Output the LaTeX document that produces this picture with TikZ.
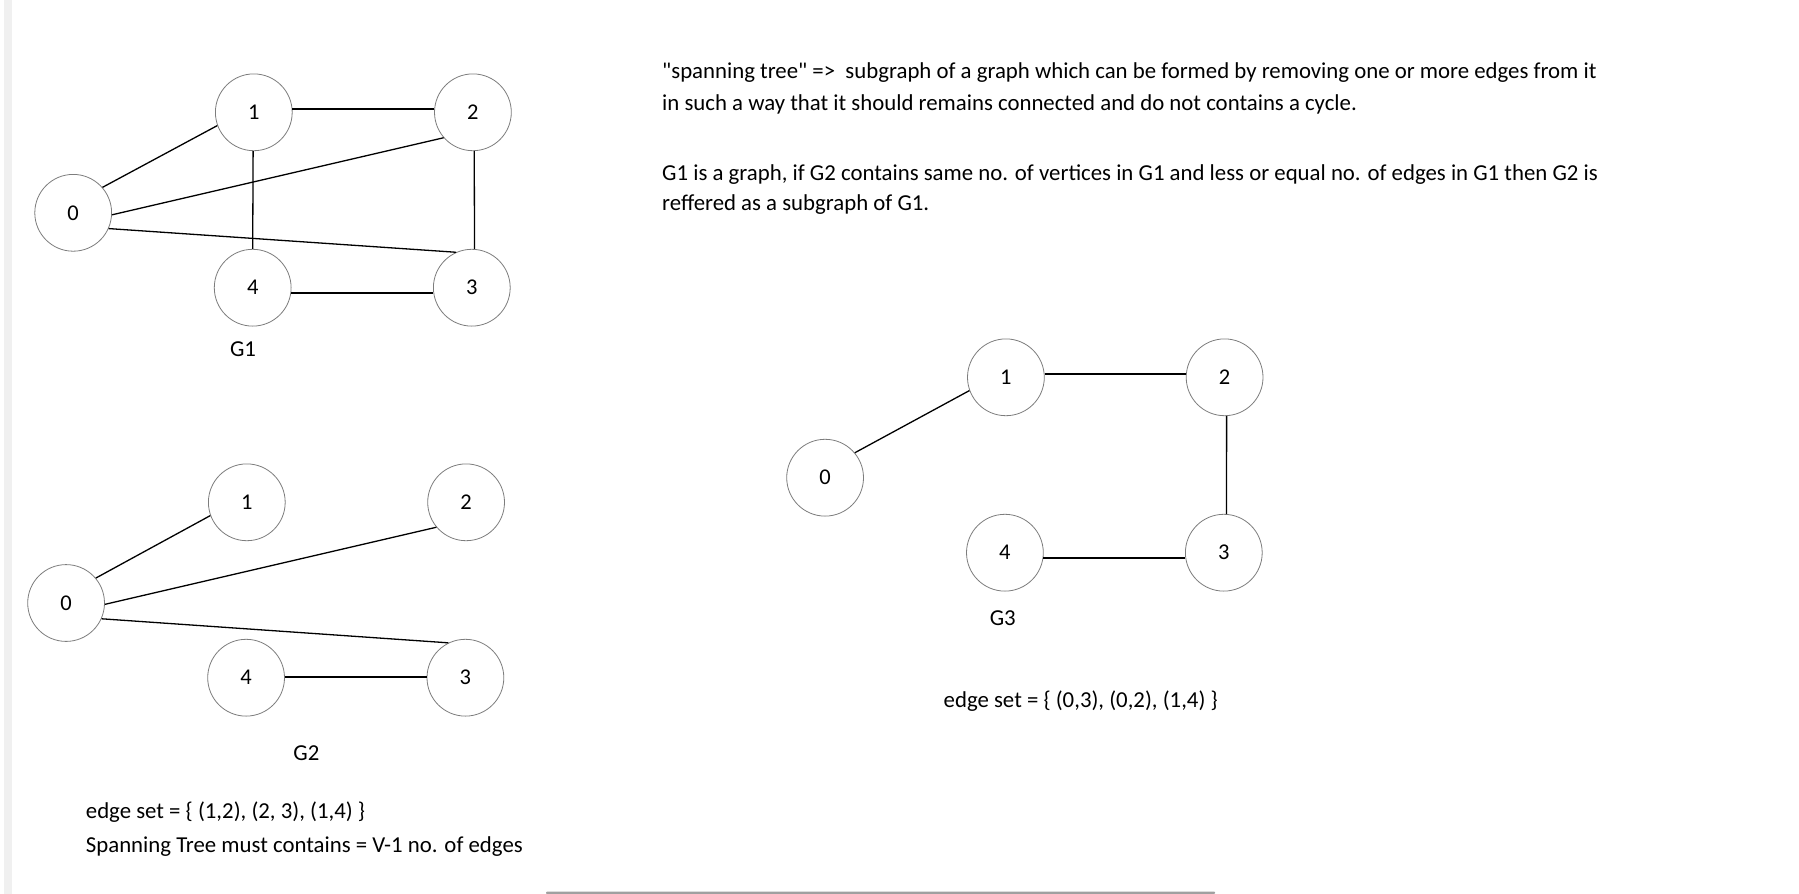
\documentclass[tikz,border=0pt]{standalone}
\usepackage{fontspec}
\setmainfont{Carlito}
\definecolor{nodeborder}{RGB}{125,125,125}
\definecolor{bandgray}{RGB}{240,240,240}
\definecolor{scrollgray}{RGB}{160,160,160}
\begin{document}
\begin{tikzpicture}[x=1pt,y=-1pt,
  vtx/.style={circle, draw=nodeborder, line width=0.8pt, fill=white, minimum size=76.8pt, inner sep=0pt, font=\fontsize{22.5}{26}\selectfont},
  edge/.style={line width=1.3pt, black},
  txt/.style={anchor=base west, inner sep=0pt, font=\fontsize{22.8}{27}\selectfont},
  lbl/.style={anchor=center, inner sep=0pt, font=\fontsize{22.8}{27}\selectfont}]
\useasboundingbox (0,0) rectangle (1799,894);
\fill[white] (0,0) rectangle (1799,894);
\fill[bandgray] (3.5,0) rectangle (12,894);
\fill[scrollgray, rounded corners=1pt] (546,891.5) rectangle (1215,894);

% G1
\node[vtx] (a0) at (73.2,212.8) {0};
\node[vtx] (a1) at (253.8,112.3) {1};
\node[vtx] (a2) at (472.9,112.3) {2};
\node[vtx] (a4) at (252.7,287.7) {4};
\node[vtx] (a3) at (471.8,287.7) {3};
\draw[edge] (a0.41) -- (a1.200);
\draw[edge] (a1.5) -- (a2.175);
\draw[edge] (a0.357) -- (a2.221);
\draw[edge] (a1.269) -- (a4.90);
\draw[edge] (a2.272) -- (a3.86);
\draw[edge] (a0.336) -- (a3.114);
\draw[edge] (a4.352) -- (a3.188);
\node[lbl] (g1) at (243,349) {G1};

% G2
\node[vtx] (b0) at (66.1,603) {0};
\node[vtx] (b1) at (246.8,502.3) {1};
\node[vtx] (b2) at (466.1,502.3) {2};
\node[vtx] (b4) at (246.1,677.7) {4};
\node[vtx] (b3) at (465.4,677.7) {3};
\draw[edge] (b0.40) -- (b1.200);
\draw[edge] (b0.358) -- (b2.220);
\draw[edge] (b0.336) -- (b3.116);
\draw[edge] (b4.1) -- (b3.179);
\node[lbl] (g2) at (306.4,753) {G2};
\node[txt] (e2) at (85.7,818) {edge set = \{ (1,2), (2, 3), (1,4) \}};
\node[txt] (s2) at (85.7,852) {Spanning Tree must contains = V-1 no. of edges};

% G3
\node[vtx] (c0) at (825.1,477.7) {0};
\node[vtx] (c1) at (1005.9,377.3) {1};
\node[vtx] (c2) at (1224.6,377.3) {2};
\node[vtx] (c4) at (1004.9,552.7) {4};
\node[vtx] (c3) at (1223.8,552.7) {3};
\draw[edge] (c0.40) -- (c1.200);
\draw[edge] (c1.5) -- (c2.175);
\draw[edge] (c2.273) -- (c3.86);
\draw[edge] (c4.352) -- (c3.188);
\node[lbl] (g3) at (1002.8,618.5) {G3};
\node[txt] (e3) at (943.5,707) {edge set = \{ (0,3), (0,2), (1,4) \}};

% description
\node[txt] (t1) at (662,78) {\textquotedbl spanning tree\textquotedbl{} =>\ \ subgraph of a graph which can be formed by removing one or more edges from it};
\node[txt] (t2) at (662,110) {in such a way that it should remains connected and do not contains a cycle.};
\node[txt] (t3) at (662,180) {G1 is a graph, if G2 contains same no. of vertices in G1 and less or equal no. of edges in G1 then G2 is};
\node[txt] (t4) at (662,210) {reffered as a subgraph of G1.};
\end{tikzpicture}
\end{document}
